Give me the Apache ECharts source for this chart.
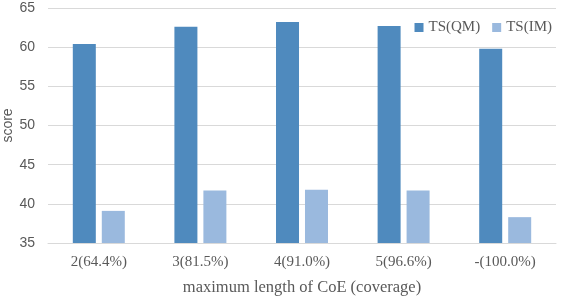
<!DOCTYPE html>
<html><head><meta charset="utf-8">
<script src="https://cdn.jsdelivr.net/npm/echarts@6/dist/echarts.min.js"></script>
<style>html,body{margin:0;padding:0;background:#fff}#c{width:561px;height:297px}</style>
</head><body><div id="c"></div>
<script>
var categories = ['2(64.4%)','3(81.5%)','4(91.0%)','5(96.6%)','-(100.0%)'];
var tsQM = [60.4, 62.6, 63.2, 62.7, 59.8];
var tsIM = [39.1, 41.7, 41.8, 41.7, 38.3];
var chart = echarts.init(document.getElementById('c'));
chart.setOption({
  animation:false,
  grid:{left:48,right:5,top:8,bottom:54,outerBoundsMode:'none',containLabel:false},
  legend:{top:15,right:4,itemWidth:9,itemHeight:9,itemGap:12,icon:'rect',
    textStyle:{fontFamily:'Liberation Serif',fontSize:15,color:'#595959'},
    data:['TS(QM)','TS(IM)']},
  xAxis:{type:'category',data:categories,
    name:'maximum length of CoE (coverage)',nameLocation:'middle',nameGap:36,nameMoveOverlap:false,
    nameTextStyle:{fontFamily:'Liberation Serif',fontSize:16.5,color:'#595959'},
    axisLine:{lineStyle:{color:'#D9D9D9'}},axisTick:{show:false},
    axisLabel:{fontFamily:'Liberation Serif',fontSize:15,color:'#595959',margin:12}},
  yAxis:{type:'value',min:35,max:65,interval:5,
    name:'score',nameLocation:'middle',nameGap:33,nameMoveOverlap:false,
    nameTextStyle:{fontFamily:'Liberation Sans',fontSize:14,color:'#595959'},
    axisLine:{show:false},axisTick:{show:false},
    axisLabel:{fontFamily:'Liberation Sans',fontSize:14,color:'#595959',margin:13},
    splitLine:{lineStyle:{color:'#D9D9D9'}}},
  series:[
    {name:'TS(QM)',type:'bar',data:tsQM,barWidth:23,barGap:'26%',itemStyle:{color:'#4F8ABE'}},
    {name:'TS(IM)',type:'bar',data:tsIM,barWidth:23,itemStyle:{color:'#9AB9DE'}}
  ]
});
</script></body></html>
